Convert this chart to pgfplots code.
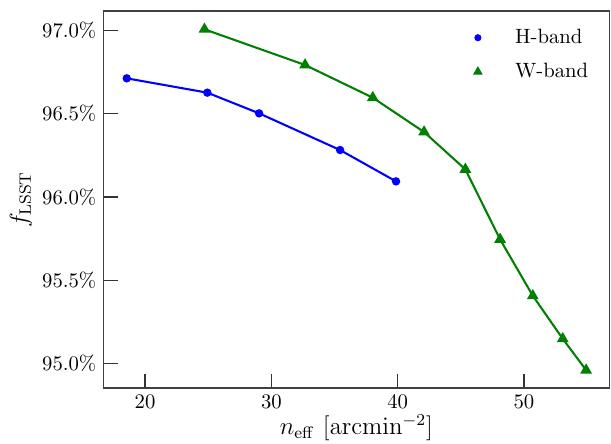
\documentclass[border=0pt]{standalone}
\usepackage{pgfplots}
\pgfplotsset{compat=1.18}
\begin{document}
\begin{tikzpicture}
\definecolor{mpgreen}{RGB}{0,128,0}
\definecolor{mpblue}{RGB}{0,0,255}
\begin{axis}[
  scale only axis,
  width=244.3pt, height=182pt,
  xmin=16.71, xmax=56.76,
  ymin=94.856, ymax=97.116,
  xtick={20,30,40,50},
  ytick={95.0,95.5,96.0,96.5,97.0},
  yticklabel={\pgfmathprintnumber[fixed,fixed zerofill,precision=1]{\tick}\%},
  tick align=inside,
  xtick pos=bottom, ytick pos=left,
  major tick length=6.8pt,
  minor tick num=0,
  axis line style={black!75, line width=0.75pt},
  tick style={black!80, line width=0.6pt},
  xlabel={$n_{\rm eff}\ [{\rm arcmin}^{-2}]$},
  ylabel={$f_{\rm LSST}$},
  label style={font=\large},
  xlabel style={yshift=4pt},
  ylabel style={yshift=-2pt},
  legend style={draw=none, fill=none, at={(1,1)}, anchor=north east, xshift=-5pt, yshift=-4.5pt, font=\normalsize, row sep=4pt,
    /tikz/every odd column/.append style={column sep=14pt}},
  legend cell align=left,
  legend image code/.code={\draw[#1] plot coordinates {(0cm,0cm)};},
]
\addlegendimage{only marks, mark=*, mpblue, mark size=1.5pt}
\addlegendentry{H-band}
\addlegendimage{only marks, mark=triangle*, mpgreen, mark size=2.3pt}
\addlegendentry{W-band}
\addplot[mpblue, line width=1pt, mark=*, mark size=1.5pt, forget plot] coordinates {
(18.55,96.712) (24.93,96.626) (29.03,96.502) (35.44,96.282) (39.87,96.094)
};
\addplot[mpgreen, line width=1pt, mark=triangle*, mark size=2.3pt, forget plot] coordinates {
(24.70,97.006) (32.67,96.792) (38.03,96.596) (42.09,96.390) (45.36,96.166)
(48.11,95.746) (50.70,95.408) (53.07,95.150) (54.92,94.962)
};
\coordinate (SW) at (rel axis cs:0,0);
\coordinate (NE) at (rel axis cs:1,1);
\end{axis}
\pgfresetboundingbox
\path[use as bounding box] ([xshift=-50pt,yshift=-26.7pt]SW) rectangle ([xshift=0.8pt,yshift=5.3pt]NE);
\end{tikzpicture}
\end{document}
